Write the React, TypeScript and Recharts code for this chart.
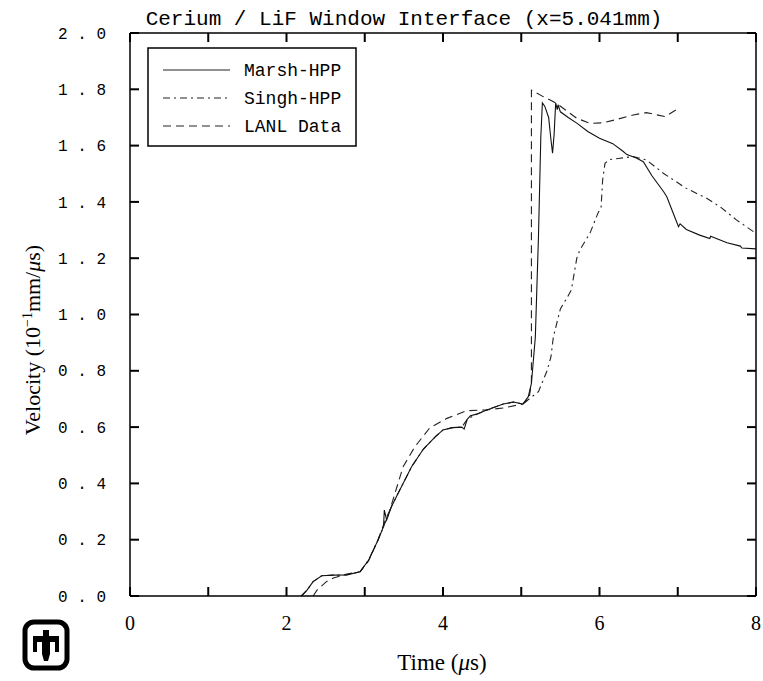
import React from 'react';
import { LineChart, Line, XAxis, YAxis, Legend, Label, ReferenceLine } from 'recharts';

// Ce / LiF window interface velocity, t in microseconds, v in 10^-1 mm/us
const marshHpp = [
  { t: 2.19, v: 0.0 }, { t: 2.26, v: 0.02 }, { t: 2.34, v: 0.051 }, { t: 2.45, v: 0.072 },
  { t: 2.6, v: 0.074 }, { t: 2.77, v: 0.075 }, { t: 2.94, v: 0.086 }, { t: 3.05, v: 0.128 },
  { t: 3.17, v: 0.199 }, { t: 3.24, v: 0.246 }, { t: 3.25, v: 0.305 }, { t: 3.28, v: 0.27 },
  { t: 3.34, v: 0.317 }, { t: 3.49, v: 0.4 }, { t: 3.6, v: 0.46 }, { t: 3.75, v: 0.522 },
  { t: 3.9, v: 0.565 }, { t: 4.0, v: 0.59 }, { t: 4.12, v: 0.598 }, { t: 4.24, v: 0.6 },
  { t: 4.27, v: 0.593 }, { t: 4.31, v: 0.628 }, { t: 4.35, v: 0.64 }, { t: 4.43, v: 0.646 },
  { t: 4.56, v: 0.661 }, { t: 4.77, v: 0.682 }, { t: 4.9, v: 0.689 }, { t: 5.02, v: 0.682 },
  { t: 5.09, v: 0.708 }, { t: 5.13, v: 0.755 }, { t: 5.18, v: 0.92 }, { t: 5.22, v: 1.276 },
  { t: 5.25, v: 1.63 }, { t: 5.27, v: 1.752 }, { t: 5.3, v: 1.74 }, { t: 5.35, v: 1.7 },
  { t: 5.38, v: 1.62 }, { t: 5.4, v: 1.573 }, { t: 5.42, v: 1.64 }, { t: 5.44, v: 1.752 },
  { t: 5.46, v: 1.728 }, { t: 5.47, v: 1.745 }, { t: 5.5, v: 1.72 }, { t: 5.6, v: 1.7 },
  { t: 5.71, v: 1.68 }, { t: 5.85, v: 1.65 }, { t: 6.0, v: 1.626 }, { t: 6.17, v: 1.607 },
  { t: 6.3, v: 1.58 }, { t: 6.35, v: 1.568 }, { t: 6.47, v: 1.556 }, { t: 6.56, v: 1.543 },
  { t: 6.67, v: 1.493 }, { t: 6.82, v: 1.436 }, { t: 6.86, v: 1.418 }, { t: 6.96, v: 1.347 },
  { t: 7.01, v: 1.312 }, { t: 7.03, v: 1.322 }, { t: 7.11, v: 1.302 }, { t: 7.28, v: 1.282 },
  { t: 7.41, v: 1.27 }, { t: 7.42, v: 1.278 }, { t: 7.63, v: 1.255 }, { t: 7.8, v: 1.243 },
  { t: 7.82, v: 1.236 }, { t: 8.0, v: 1.233 },
];

const singhHpp = [
  { t: 2.19, v: 0.0 }, { t: 2.26, v: 0.02 }, { t: 2.34, v: 0.051 }, { t: 2.45, v: 0.072 },
  { t: 2.6, v: 0.074 }, { t: 2.77, v: 0.075 }, { t: 2.94, v: 0.086 }, { t: 3.05, v: 0.128 },
  { t: 3.17, v: 0.199 }, { t: 3.24, v: 0.246 }, { t: 3.34, v: 0.317 }, { t: 3.49, v: 0.4 },
  { t: 3.6, v: 0.46 }, { t: 3.75, v: 0.522 }, { t: 3.9, v: 0.565 }, { t: 4.0, v: 0.59 },
  { t: 4.12, v: 0.598 }, { t: 4.24, v: 0.6 }, { t: 4.31, v: 0.628 }, { t: 4.43, v: 0.646 },
  { t: 4.56, v: 0.661 }, { t: 4.77, v: 0.682 }, { t: 4.9, v: 0.689 }, { t: 5.02, v: 0.682 },
  { t: 5.1, v: 0.7 }, { t: 5.22, v: 0.726 }, { t: 5.33, v: 0.8 }, { t: 5.38, v: 0.85 },
  { t: 5.41, v: 0.92 }, { t: 5.5, v: 1.02 }, { t: 5.58, v: 1.057 }, { t: 5.64, v: 1.087 },
  { t: 5.71, v: 1.2 }, { t: 5.75, v: 1.23 }, { t: 5.88, v: 1.29 }, { t: 5.98, v: 1.36 },
  { t: 6.02, v: 1.38 }, { t: 6.04, v: 1.478 }, { t: 6.07, v: 1.537 }, { t: 6.12, v: 1.55 },
  { t: 6.26, v: 1.555 }, { t: 6.43, v: 1.561 }, { t: 6.6, v: 1.549 }, { t: 6.82, v: 1.501 },
  { t: 7.11, v: 1.448 }, { t: 7.37, v: 1.413 }, { t: 7.54, v: 1.383 }, { t: 7.75, v: 1.336 },
  { t: 7.97, v: 1.294 }, { t: 8.0, v: 1.29 },
];

const lanlData = [
  { t: 2.34, v: 0.0 }, { t: 2.39, v: 0.021 }, { t: 2.51, v: 0.051 }, { t: 2.6, v: 0.064 },
  { t: 2.77, v: 0.078 }, { t: 2.94, v: 0.086 }, { t: 3.05, v: 0.125 }, { t: 3.17, v: 0.2 },
  { t: 3.25, v: 0.26 }, { t: 3.32, v: 0.305 }, { t: 3.49, v: 0.459 }, { t: 3.64, v: 0.53 },
  { t: 3.83, v: 0.597 }, { t: 4.05, v: 0.631 }, { t: 4.3, v: 0.658 }, { t: 4.56, v: 0.661 },
  { t: 4.77, v: 0.668 }, { t: 5.02, v: 0.682 }, { t: 5.1, v: 0.7 }, { t: 5.13, v: 0.76 },
  { t: 5.13, v: 1.797 }, { t: 5.28, v: 1.774 }, { t: 5.37, v: 1.762 }, { t: 5.45, v: 1.75 },
  { t: 5.71, v: 1.697 }, { t: 5.88, v: 1.679 }, { t: 6.05, v: 1.681 }, { t: 6.22, v: 1.693 },
  { t: 6.43, v: 1.709 }, { t: 6.6, v: 1.717 }, { t: 6.84, v: 1.703 }, { t: 6.99, v: 1.729 },
];

const xTicks = [0, 1, 2, 3, 4, 5, 6, 7, 8];
const xLabelTicks = [0, 2, 4, 6, 8];
const yTicks = [0, 0.2, 0.4, 0.6, 0.8, 1.0, 1.2, 1.4, 1.6, 1.8, 2.0];

const chartTitle = 'Cerium / LiF Window Interface (x=5.041mm)';

const INK = '#000';
const MONO = '"Liberation Mono", "DejaVu Sans Mono", monospace';
const SERIF = '"Liberation Serif", "DejaVu Serif", serif';

// inward tick length expressed in axis units (about 9px each way)
const X_MIN = 0, X_MAX = 8, Y_MIN = 0, Y_MAX = 2;
const TICK_T = 0.115;
const TICK_V = 0.032;

const seriesStyle = [
  { name: 'Marsh-HPP', dash: undefined as string | undefined },
  { name: 'Singh-HPP', dash: '7 4 2 4' },
  { name: 'LANL Data', dash: '8 5' },
];

// legend box, drawn like the plot frame
const LegendBox = () => (
  <svg width={210} height={100} style={{ display: 'block' }}>
    <rect x={1} y={1} width={208} height={98} fill="#fff" stroke={INK} strokeWidth={1.5} />
    {seriesStyle.map((s, i) => (
      <g key={s.name}>
        <line x1={16} x2={83} y1={23 + i * 28} y2={23 + i * 28} stroke="#222" strokeWidth={1} strokeDasharray={s.dash} />
        <text x={97} y={29 + i * 28} fontFamily={MONO} fontSize={18} fill={INK}>{s.name}</text>
      </g>
    ))}
  </svg>
);

// Sandia thunderbird mark
const Logo = () => (
  <svg width={48} height={52} style={{ position: 'absolute', left: 22, top: 619 }}>
    <rect x={3} y={3} width={42} height={46} rx={9} fill="#fff" stroke={INK} strokeWidth={5} />
    <path
      d="M21 11 H27 V17 H37 V33 H33 V23 H28 V35 L26 42 H22 L20 35 V23 H15 V33 H11 V17 H21 Z"
      fill={INK}
    />
  </svg>
);

const frameLine = { stroke: INK, strokeWidth: 1.5 };

export default function App() {
  return (
    <div style={{ position: 'absolute', left: 0, top: 0, width: 763, height: 681, background: '#fff' }}>
      <LineChart width={763} height={681} margin={{ top: 32, right: 6, bottom: 40, left: 60 }}>
        <XAxis
          dataKey="t"
          type="number"
          domain={[X_MIN, X_MAX]}
          ticks={xTicks}
          interval={0}
          height={45}
          axisLine={frameLine}
          tickLine={false}
          tickMargin={14}
          tick={{ fill: INK, fontSize: 20, fontFamily: SERIF }}
          tickFormatter={(v: number) => (xLabelTicks.includes(v) ? String(v) : '')}
        >
          <Label
            content={() => (
              <g>
                <text x={442} y={670} textAnchor="middle" fontFamily={SERIF} fontSize={23} fill={INK}>
                  Time (<tspan fontStyle="italic">μ</tspan>s)
                </text>
                <text x={404} y={25} textAnchor="middle" fontFamily={MONO} fontSize={21} fill={INK}>
                  {chartTitle}
                </text>
              </g>
            )}
          />
        </XAxis>
        <XAxis
          xAxisId="top"
          orientation="top"
          dataKey="t"
          type="number"
          domain={[X_MIN, X_MAX]}
          height={1}
          axisLine={frameLine}
          tickLine={false}
          tick={false}
        />
        <YAxis
          type="number"
          domain={[Y_MIN, Y_MAX]}
          ticks={yTicks}
          interval={0}
          width={70}
          axisLine={frameLine}
          tickLine={false}
          tickMargin={18}
          tick={{ fill: INK, fontSize: 16, fontFamily: MONO }}
          tickFormatter={(v: number) => v.toFixed(1).split('').join(' ')}
        >
          <Label
            content={() => (
              <text
                x={40}
                y={340}
                transform="rotate(-90, 40, 340)"
                textAnchor="middle"
                fontFamily={SERIF}
                fontSize={22}
                fill={INK}
              >
                Velocity (10<tspan dy={-8} fontSize={14}>−1</tspan>
                <tspan dy={8}>mm/</tspan>
                <tspan fontStyle="italic">μ</tspan>s)
              </text>
            )}
          />
        </YAxis>
        <YAxis
          yAxisId="right"
          orientation="right"
          type="number"
          domain={[Y_MIN, Y_MAX]}
          width={1}
          axisLine={frameLine}
          tickLine={false}
          tick={false}
        />
        {/* inward tick marks on all four sides of the frame */}
        {xTicks.map((t) => (
          <ReferenceLine
            key={`xb${t}`}
            segment={[{ x: t, y: Y_MIN }, { x: t, y: Y_MIN + TICK_V }]}
            stroke={INK}
            strokeWidth={2}
            ifOverflow="visible"
          />
        ))}
        {xTicks.map((t) => (
          <ReferenceLine
            key={`xt${t}`}
            segment={[{ x: t, y: Y_MAX }, { x: t, y: Y_MAX - TICK_V }]}
            stroke={INK}
            strokeWidth={2}
            ifOverflow="visible"
          />
        ))}
        {yTicks.map((v) => (
          <ReferenceLine
            key={`yl${v}`}
            segment={[{ x: X_MIN, y: v }, { x: X_MIN + TICK_T, y: v }]}
            stroke={INK}
            strokeWidth={2}
            ifOverflow="visible"
          />
        ))}
        {yTicks.map((v) => (
          <ReferenceLine
            key={`yr${v}`}
            segment={[{ x: X_MAX, y: v }, { x: X_MAX - TICK_T, y: v }]}
            stroke={INK}
            strokeWidth={2}
            ifOverflow="visible"
          />
        ))}
        <Legend
          layout="horizontal"
          verticalAlign="middle"
          align="center"
          wrapperStyle={{ left: 147, top: 47, width: 210, height: 100 }}
          content={() => <LegendBox />}
        />
        <Line
          data={lanlData}
          dataKey="v"
          name="LANL Data"
          type="linear"
          stroke="#222"
          strokeWidth={1.1}
          strokeDasharray="8 5"
          dot={false}
          activeDot={false}
          isAnimationActive={false}
        />
        <Line
          data={singhHpp}
          dataKey="v"
          name="Singh-HPP"
          type="linear"
          stroke="#222"
          strokeWidth={1.1}
          strokeDasharray="7 4 2 4"
          dot={false}
          activeDot={false}
          isAnimationActive={false}
        />
        <Line
          data={marshHpp}
          dataKey="v"
          name="Marsh-HPP"
          type="linear"
          stroke="#111"
          strokeWidth={1.1}
          dot={false}
          activeDot={false}
          isAnimationActive={false}
        />
        {/* invisible twin of the measured trace so the top/right frame axes get drawn */}
        <Line
          xAxisId="top"
          yAxisId="right"
          data={lanlData}
          dataKey="v"
          stroke="none"
          legendType="none"
          dot={false}
          activeDot={false}
          isAnimationActive={false}
        />
      </LineChart>
      <Logo />
    </div>
  );
}
